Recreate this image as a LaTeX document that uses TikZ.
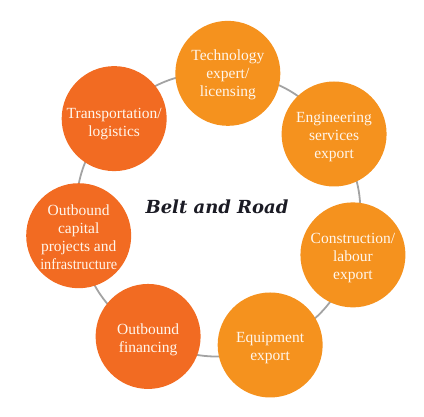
\documentclass[tikz,border=0pt]{standalone}
\usepackage{fontspec}
\setmainfont{Liberation Serif}
\newfontfamily\titlefont{DejaVu Serif}
\usetikzlibrary{backgrounds}
\definecolor{lightor}{HTML}{F5921E}
\definecolor{darkor}{HTML}{F26B22}
\definecolor{ringgray}{HTML}{A3A3A3}
\definecolor{txtcream}{HTML}{FFF6EC}
\definecolor{titlecol}{HTML}{1B1B24}
\newcommand\txtdrop[1]{\rule{0pt}{\dimexpr11pt+#1pt*2\relax}}
\tikzset{
  bubble/.style={circle, minimum size=105pt, inner sep=0pt, text=txtcream, align=center,
    font=\fontsize{15.5}{18}\selectfont},
  lightb/.style={bubble, fill=lightor},
  darkb/.style={bubble, fill=darkor},
  ring/.style={draw=ringgray, line width=1.8pt},
}
\begin{document}
\begin{tikzpicture}[x=1pt,y=1pt]
\useasboundingbox (0,0) rectangle (424,-417);
\coordinate (ctr) at (218,-214);
\begin{scope}[shift={(ctr)}]
\node[lightb] (tech)  at ({86-0*51.4286}:141) {\txtdrop{1}Technology\\expert/\\licensing};
\node[lightb] (eng)   at ({86-1*51.4286}:141) {\txtdrop{3}Engineering\\services\\export};
\node[lightb] (cons)  at ({86-2*51.4286}:141) {\txtdrop{3}Construction/\\labour\\export};
\node[lightb] (equip) at ({86-3*51.4286}:141) {\txtdrop{3}Equipment\\export};
\node[darkb]  (fin)   at ({86-4*51.4286}:141) {\txtdrop{3}Outbound\\financing};
\node[darkb]  (cap)   at ({86-5*51.4286}:141) {\txtdrop{1}Outbound\\capital\\projects and\\\scalebox{0.92}[1]{infrastructure}};
\node[darkb]  (trans) at ({86-6*51.4286}:141) {\txtdrop{5}Transportation/\\logistics};
\end{scope}
\node[text=titlecol, font=\titlefont\fontsize{18}{20}\selectfont\bfseries\itshape] (title) at (217,-207) {Belt and Road};
\begin{scope}[on background layer]
\draw[ring] (tech.center) to[bend left=25.7] (eng.center)
  to[bend left=25.7] (cons.center)
  to[bend left=25.7] (equip.center)
  to[bend left=25.7] (fin.center)
  to[bend left=25.7] (cap.center)
  to[bend left=25.7] (trans.center)
  to[bend left=25.7] (tech.center);
\end{scope}
\end{tikzpicture}
\end{document}
